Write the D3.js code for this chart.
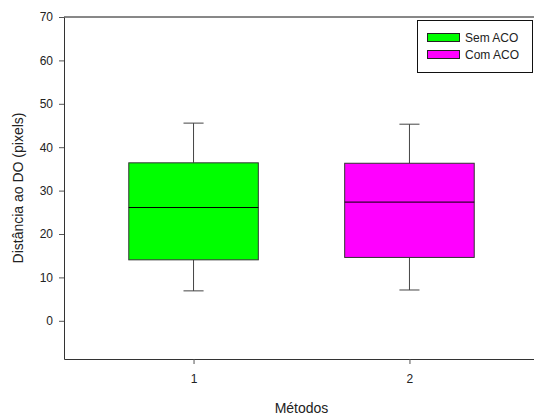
<!DOCTYPE html>
<html>
<head>
<meta charset="utf-8">
<script src="https://cdn.jsdelivr.net/npm/d3@7"></script>
<style>
  body { margin: 0; background: #fff; }
  text { font-family: "Liberation Sans", Arial, sans-serif; fill: #222; }
</style>
</head>
<body>
<svg width="534" height="417"></svg>
<script>
const svg = d3.select("svg");

const methods = [1, 2];
const seriesNames = ["Sem ACO", "Com ACO"];
const colors = ["#00ff00", "#ff00ff"];
const q1 = [14.05, 14.6];
const median = [26.1, 27.35];
const q3 = [36.4, 36.3];
const whiskerLow = [6.9, 7.1];
const whiskerHigh = [45.55, 45.3];
const yTicks = [0, 10, 20, 30, 40, 50, 60, 70];

const x = d3.scaleLinear().domain([0.4, 2.6]).range([64, 539]);
const y = d3.scaleLinear().domain([-8.8, 70]).range([359, 17]);

// frame
svg.append("line")
  .attr("x1", 64).attr("x2", 539).attr("y1", 17).attr("y2", 17)
  .attr("stroke", "#111");

svg.append("g")
  .attr("transform", "translate(64,0)")
  .call(d3.axisLeft(y).tickValues(yTicks).tickSize(5).tickSizeOuter(0))
  .call(g => g.select(".domain").attr("stroke", "#333"))
  .call(g => g.selectAll(".tick line").attr("stroke", "#555"))
  .call(g => g.selectAll("text").attr("font-size", 12).attr("dx", -3));

svg.append("g")
  .attr("transform", "translate(0,359)")
  .call(d3.axisBottom(x).tickValues(methods).tickFormat(d3.format("d")).tickSize(5).tickSizeOuter(0))
  .call(g => g.select(".domain").attr("stroke", "#333"))
  .call(g => g.selectAll(".tick line").attr("stroke", "#555"))
  .call(g => g.selectAll("text").attr("font-size", 12).attr("dy", "1.3em"));

// boxes
const boxW = 0.6;
const capW = x(0.093) - x(0);
const boxes = svg.append("g").selectAll("g")
  .data(methods.map((m, i) => ({ m, i })))
  .enter().append("g");

boxes.append("line")
  .attr("x1", d => x(d.m)).attr("x2", d => x(d.m))
  .attr("y1", d => y(whiskerHigh[d.i])).attr("y2", d => y(q3[d.i]))
  .attr("stroke", "#444");
boxes.append("line")
  .attr("x1", d => x(d.m)).attr("x2", d => x(d.m))
  .attr("y1", d => y(q1[d.i])).attr("y2", d => y(whiskerLow[d.i]))
  .attr("stroke", "#444");
boxes.append("line")
  .attr("x1", d => x(d.m) - capW / 2).attr("x2", d => x(d.m) + capW / 2)
  .attr("y1", d => y(whiskerHigh[d.i])).attr("y2", d => y(whiskerHigh[d.i]))
  .attr("stroke", "#444");
boxes.append("line")
  .attr("x1", d => x(d.m) - capW / 2).attr("x2", d => x(d.m) + capW / 2)
  .attr("y1", d => y(whiskerLow[d.i])).attr("y2", d => y(whiskerLow[d.i]))
  .attr("stroke", "#444");
boxes.append("rect")
  .attr("x", d => x(d.m - boxW / 2))
  .attr("width", d => x(d.m + boxW / 2) - x(d.m - boxW / 2))
  .attr("y", d => y(q3[d.i]))
  .attr("height", d => y(q1[d.i]) - y(q3[d.i]))
  .attr("fill", d => colors[d.i])
  .attr("stroke", "#333");
boxes.append("line")
  .attr("x1", d => x(d.m - boxW / 2)).attr("x2", d => x(d.m + boxW / 2))
  .attr("y1", d => y(median[d.i])).attr("y2", d => y(median[d.i]))
  .attr("stroke", "#000");

// axis titles
svg.append("text")
  .attr("transform", "translate(23,188) rotate(-90)")
  .attr("text-anchor", "middle")
  .attr("font-size", 14)
  .text("Distância ao DO (pixels)");
svg.append("text")
  .attr("x", x(1.5)).attr("y", 413)
  .attr("text-anchor", "middle")
  .attr("font-size", 14)
  .text("Métodos");

// legend
const legend = svg.append("g");
legend.append("rect")
  .attr("x", 417.5).attr("y", 20.5).attr("width", 115).attr("height", 52)
  .attr("fill", "#fff").attr("stroke", "#111");
const items = legend.selectAll("g.item")
  .data(seriesNames)
  .enter().append("g")
  .attr("class", "item")
  .attr("transform", (d, i) => `translate(0, ${i * 17})`);
items.append("rect")
  .attr("x", 427.5).attr("y", 33.5).attr("width", 32).attr("height", 8)
  .attr("fill", (d, i) => colors[i]).attr("stroke", "#222");
items.append("text")
  .attr("x", 465).attr("y", 42)
  .attr("font-size", 12)
  .text(d => d);
</script>
</body>
</html>
